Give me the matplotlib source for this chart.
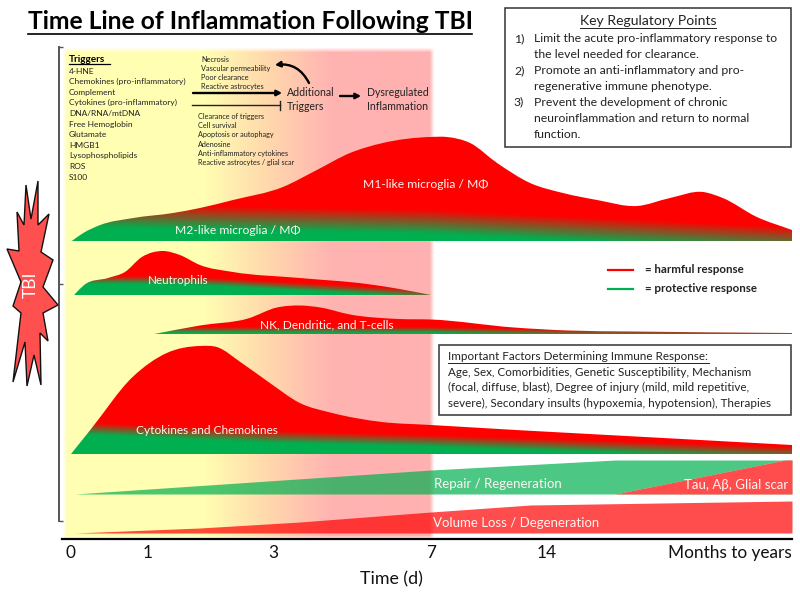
import numpy as np
import matplotlib
matplotlib.use("Agg")
import matplotlib.pyplot as plt
from matplotlib.patches import PathPatch, Polygon, Rectangle, FancyArrowPatch
from matplotlib.path import Path

plt.rcParams['font.family'] = ['Lato', 'DejaVu Sans']

# time axis (not linear, each labelled day has its own position)
tick_days = [0, 1, 3, 7, 14, 60]
tick_labels = ['0', '1', '3', '7', '14', 'Months to years']

# M1 / M2 microglia
micro_days = [0.01, 0.16, 0.38, 0.81, 1.4, 1.83, 2.36, 3.25, 4.11, 4.95, 5.78, 6.97,
              7.96, 9.36, 10.99, 12.98, 17, 23.4, 30.9, 37.1, 43.3, 47, 53.4, 60]
micro_height = [0, 8, 16, 23, 28, 33, 41, 54, 71, 88, 98, 104,
                104, 98, 78, 58, 48, 41, 35, 43, 49, 43, 24, 11]
micro_split_days = [0, 7, 60]
micro_split = [26, 19, 2]

# neutrophils
neut_days = [0.04, 0.17, 0.48, 0.7, 0.92, 1.24, 1.51, 1.83, 2.36, 3.68, 5.38, 6.2, 7]
neut_height = [0, 10, 17, 23, 38, 44, 40, 30, 23, 17, 11, 6, 0]
neut_split_days = [0.4, 1.5, 7]
neut_split = [15, 15, 1]

# NK, dendritic and T-cells
nk_days = [1.06, 1.83, 2.6, 3.1, 3.68, 4.2, 4.95, 6.2, 7, 12, 18, 30, 60]
nk_height = [0, 9, 16, 27, 29, 27, 20, 15.5, 15, 7, 4, 3, 1.5]
nk_split_days = [1.06, 7, 20, 60]
nk_split = [4, 4, 1, 0]

# cytokines and chemokines
cyto_days = [0.0, 0.25, 0.8, 1.3, 1.83, 2.1, 2.5, 2.95, 3.68, 4.5, 5.76, 7, 60]
cyto_height = [0, 24, 77, 101, 108, 107, 91, 71, 51, 41, 32, 29, 9]
cyto_split_days = [0.3, 3, 7, 60]
cyto_split = [25, 17, 13, 1]

# repair, tau and volume loss wedges
repair_days = [0.05, 7, 26.8, 60]
repair_height = [0, 24, 34, 34]
tau_days = [26.8, 58.7, 60]
tau_height = [0, 34, 34]
volume_days = [0.05, 1.83, 3.68, 7, 13, 60]
volume_height = [0, 5, 11, 21, 28, 32]

triggers = ['4-HNE', 'Chemokines (pro-inflammatory)', 'Complement', 'Cytokines (pro-inflammatory)',
            'DNA/RNA/mtDNA', 'Free Hemoglobin', 'Glutamate', 'HMGB1', 'Lysophospholipids', 'ROS', 'S100']
promote = ['Necrosis', 'Vascular permeability', 'Poor clearance', 'Reactive astrocytes']
inhibit = ['Clearance of triggers', 'Cell survival', 'Apoptosis or autophagy', 'Adenosine',
           'Anti-inflammatory cytokines', 'Reactive astrocytes / glial scar']
key_lines = ['Limit the acute pro-inflammatory response to', 'the level needed for clearance.',
             'Promote an anti-inflammatory and pro-', 'regenerative immune phenotype.',
             'Prevent the development of chronic', 'neuroinflammation and return to normal', 'function.']
key_numbers = {0: '1)', 2: '2)', 4: '3)'}
factor_lines = ['Age, Sex, Comorbidities, Genetic Susceptibility, Mechanism',
                '(focal, diffuse, blast), Degree of injury (mild, mild repetitive,',
                'severe), Secondary insults (hypoxemia, hypotension), Therapies']

star_x = [26, 31, 38, 38, 49, 41, 53, 43, 58, 43, 48, 40, 41, 34, 27, 25, 13, 21, 13, 21, 7, 19, 17, 24]
star_y = [185, 219, 181, 225, 214, 252, 260, 287, 305, 313, 341, 333,
          385, 355, 386, 342, 382, 313, 306, 282, 249, 251, 212, 225]

RED = np.array([255, 0, 0]) / 255
GREEN = np.array([0, 176, 80]) / 255
tick_pos = [71, 148, 273, 431, 547, 792]


def to_x(days):
    return np.interp(days, tick_days, tick_pos)


def smooth_shape(xs, ys, base):
    # closed bezier outline through the points, flat along the baseline
    slopes = np.gradient(ys, xs)
    verts = [(xs[0], base), (xs[0], ys[0])]
    codes = [Path.MOVETO, Path.LINETO]
    for i in range(len(xs) - 1):
        step = (xs[i + 1] - xs[i]) / 3
        verts += [(xs[i] + step, ys[i] + slopes[i] * step),
                  (xs[i + 1] - step, ys[i + 1] - slopes[i + 1] * step),
                  (xs[i + 1], ys[i + 1])]
        codes += [Path.CURVE4] * 3
    verts += [(xs[-1], base), (xs[0], base)]
    codes += [Path.LINETO, Path.CLOSEPOLY]
    return Path(verts, codes)


def response_track(ax, days, height, split_days, split, base, fade):
    # red above, green below, blended across a band around the split line
    xs = to_x(days)
    ys = base - np.array(height, dtype=float)
    path = smooth_shape(xs, ys, base)
    cols = np.arange(xs[0], xs[-1] + 0.5, 0.5)
    top = ys.min() - 2
    rows = np.arange(top, base + 0.5, 0.5)
    centre = base - np.interp(cols, to_x(split_days), split)
    mix = np.clip((rows[:, None] - centre[None, :]) / (2 * fade) + 0.5, 0, 1)[..., None]
    img = RED * (1 - mix) + GREEN * mix
    im = ax.imshow(img, extent=(cols[0], cols[-1], base, top), aspect='auto', zorder=3, interpolation='bilinear')
    im.set_clip_path(PathPatch(path, transform=ax.transData))


def wedge(ax, days, height, base, color):
    xs = to_x(days)
    ys = base - np.array(height)
    ax.fill_between(xs, ys, base, color=color, alpha=0.7, lw=0, zorder=3)


def underlined(ax, x, y, s, size, width, ha='left', weight='normal', color='black', lw=0.9):
    ax.text(x, y, s, fontsize=size, ha=ha, va='center', fontweight=weight, color=color, zorder=6)
    x0 = x - width / 2 if ha == 'center' else x
    ax.plot([x0, x0 + width], [y + size * 0.72, y + size * 0.72], color=color, lw=lw, zorder=6)


fig = plt.figure(figsize=(8, 5.95), dpi=100)
ax = fig.add_axes([0, 0, 1, 1])
ax.patch.set_alpha(0)

# yellow to pink background band
grad_x = np.arange(62, 436)
stops_g = np.interp(grad_x, [62, 205, 270, 330, 431], [255, 254, 215, 180, 176])
stops_b = np.interp(grad_x, [62, 205, 270, 330, 431], [178, 178, 172, 178, 176])
grad_y = np.arange(47, 541)
alpha_x = np.clip((grad_x - 62) / 5, 0, 1) * np.clip((435 - grad_x) / 5, 0, 1)
alpha_y = np.clip((grad_y - 47) / 5, 0, 1) * np.clip((540 - grad_y) / 4, 0, 1)
bg = np.ones((len(grad_y), len(grad_x), 4))
bg[..., 1] = stops_g / 255
bg[..., 2] = stops_b / 255
bg[..., 3] = alpha_y[:, None] * alpha_x[None, :]
ax.imshow(bg, extent=(62, 435, 540, 47), aspect='auto', zorder=1)

response_track(ax, micro_days, micro_height, micro_split_days, micro_split, 241, 12)
response_track(ax, neut_days, neut_height, neut_split_days, neut_split, 295, 4)
response_track(ax, nk_days, nk_height, nk_split_days, nk_split, 334.5, 3)
response_track(ax, cyto_days, cyto_height, cyto_split_days, cyto_split, 454, 6)

wedge(ax, repair_days, repair_height, 494, '#00B050')
wedge(ax, volume_days, volume_height, 533, '#FF0000')
tau_x = to_x(tau_days)
# red over the end of the green wedge, so cover it solid first
ax.fill_between(tau_x, 494 - np.array(tau_height), 494, color='white', lw=0, zorder=3.5)
ax.fill_between(tau_x, 494 - np.array(tau_height), 494, color='#FF0000', alpha=0.7, lw=0, zorder=3.6)

# track labels
labels = [(425.5, 184, 'M1-like microglia / MΦ', 8.7), (237.5, 231, 'M2-like microglia / MΦ', 8.7),
          (178.5, 281, 'Neutrophils', 8.4), (326.5, 325, 'NK, Dendritic, and T-cells', 8.6),
          (207, 431, 'Cytokines and Chemokines', 8.6), (497.5, 484, 'Repair / Regeneration', 9.5),
          (736, 485, 'Tau, Aβ, Glial scar', 9.5), (516.5, 523, 'Volume Loss / Degeneration', 9.5)]
for x, y, s, size in labels:
    ax.text(x, y, s, color='#FFF4F0', fontsize=size, ha='center', va='center', zorder=6)

# triggers column
underlined(ax, 69, 59, 'Triggers', 7.2, 41, weight='bold')
for i, s in enumerate(triggers):
    ax.text(69, 71 + i * 10.6, s, fontsize=6, va='center', color='#222222', zorder=6)
for i, s in enumerate(promote):
    ax.text(201, 59 + i * 9.3, s, fontsize=5.3, va='center', color='#222222', zorder=6)
for i, s in enumerate(inhibit):
    ax.text(198, 116 + i * 9.4, s, fontsize=5.2, va='center', color='#222222', zorder=6)

for i, s in enumerate(['Additional', 'Triggers']):
    ax.text(287, 93 + i * 13, s, fontsize=7.6, va='center', color='#222222', zorder=6)
for i, s in enumerate(['Dysregulated', 'Inflammation']):
    ax.text(367, 93 + i * 13, s, fontsize=7.6, va='center', color='#222222', zorder=6)

arrow_style = dict(color='black', zorder=6, shrinkA=0, shrinkB=0)
ax.add_patch(FancyArrowPatch((193, 93), (282, 93), arrowstyle='-|>,head_length=3,head_width=1.6', lw=1.7, **arrow_style))
ax.add_patch(FancyArrowPatch((340, 96), (361, 96), arrowstyle='-|>,head_length=3,head_width=1.6', lw=1.7, **arrow_style))
ax.add_patch(FancyArrowPatch((309, 83), (275, 65), connectionstyle='arc3,rad=0.35',
                             arrowstyle='-|>,head_length=3,head_width=1.6', lw=1.7, **arrow_style))
ax.plot([192, 280], [105, 105], color='#222222', lw=1, zorder=6)
ax.plot([280, 280], [101, 110], color='#222222', lw=1, zorder=6)

# title
underlined(ax, 28, 21.5, 'Time Line of Inflammation Following TBI', 17.7, 444, weight='bold', lw=1.2)

# key regulatory points box
ax.add_patch(Rectangle((505, 8), 286, 139, fc='white', ec='#333333', lw=1.1, zorder=5))
underlined(ax, 648, 21, 'Key Regulatory Points', 10.1, 136, ha='center', color='#222222', lw=0.7)
key_y = [39, 54, 71, 86, 102, 118, 134]
for i, s in enumerate(key_lines):
    ax.text(534, key_y[i], s, fontsize=8.8, va='center', color='#222222', zorder=6)
    if i in key_numbers:
        ax.text(514, key_y[i], key_numbers[i], fontsize=8.8, va='center', color='#222222', zorder=6)

# factors box
ax.add_patch(Rectangle((439, 345), 352, 70, fc='white', ec='#333333', lw=1.1, zorder=5))
underlined(ax, 448, 357, 'Important Factors Determining Immune Response:', 8.4, 261, color='#222222', lw=0.7)
for i, s in enumerate(factor_lines):
    ax.text(448, 372.5 + i * 15.4, s, fontsize=8.4, va='center', color='#222222', zorder=6)

# legend
ax.plot([608, 633], [269.5, 269.5], color='#FF0000', lw=1.6, zorder=6)
ax.plot([608, 633], [289, 289], color='#00B050', lw=1.6, zorder=6)
ax.text(645, 269.5, '= harmful response', fontsize=8.3, fontweight='bold', va='center', color='#222222')
ax.text(645, 289, '= protective response', fontsize=8.3, fontweight='bold', va='center', color='#222222')

# TBI burst
ax.add_patch(Polygon(np.column_stack([star_x, star_y]), closed=True, fc='#FF5050', ec='#111111', lw=1, zorder=4))
ax.text(31, 285, 'TBI', rotation=90, color='white', fontsize=12.5, ha='center', va='center', zorder=6)

# axes: x spine carries the day ticks, y spine is the long bracket on the left
ax.set_xlim(0, 800)
ax.set_ylim(595, 0)
for side in ['top', 'right']:
    ax.spines[side].set_visible(False)
ax.spines['bottom'].set_position(('data', 539))
ax.spines['bottom'].set_bounds(62, 792)
ax.spines['bottom'].set_linewidth(1.6)
ax.spines['bottom'].set_zorder(7)
ax.spines['left'].set_position(('data', 59))
ax.spines['left'].set_bounds(47, 521)
ax.spines['left'].set_linewidth(1.4)
ax.spines['left'].set_color('#555555')
ax.set_xticks(to_x(tick_days), tick_labels, fontsize=12.4, color='#111111')
ax.tick_params(axis='x', length=0, pad=4)
ax.get_xticklabels()[-1].set_ha('right')
ax.set_yticks([47, 284, 521], ['', '', ''])
ax.tick_params(axis='y', direction='in', length=3, width=1, color='#555555')
ax.set_xlabel('Time (d)', fontsize=12.8, color='#111111')
ax.xaxis.set_label_coords(391 / 800, 1 - 571 / 595)

fig.savefig('out.png', dpi=100)
